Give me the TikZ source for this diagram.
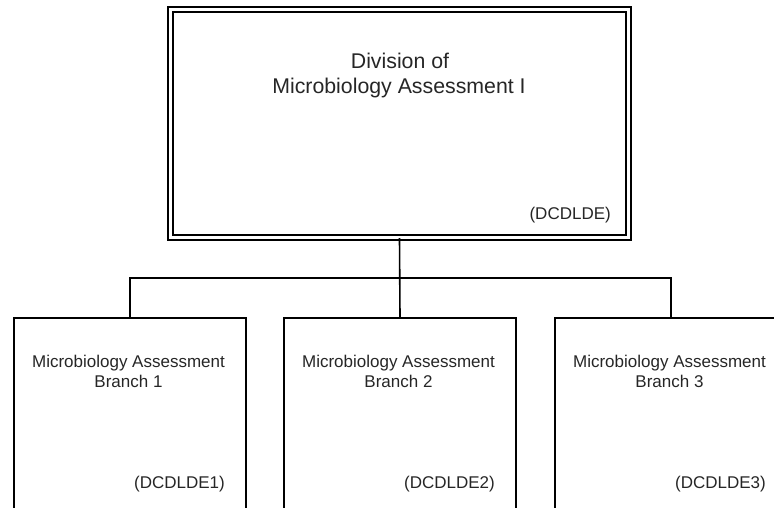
\documentclass[tikz,border=0pt]{standalone}
\usepackage{fontspec}
\setmainfont{Liberation Sans}
\begin{document}
\begin{tikzpicture}[x=1pt,y=-1pt,
  topbox/.style={draw=black,double=white,line width=1.4pt,double distance=3.4pt,
    minimum width=458pt,minimum height=228pt,inner sep=0pt},
  unitbox/.style={draw=black,line width=1.5pt,minimum width=232pt,minimum height=290pt,
    inner sep=0pt,anchor=north},
  bigtxt/.style={font=\fontsize{21.3}{25}\selectfont,text=black!85,inner sep=0pt,anchor=base},
  smalltxt/.style={font=\fontsize{17}{20}\selectfont,text=black!85,inner sep=0pt,anchor=base},
  codetxt/.style={font=\fontsize{17}{20}\selectfont,text=black!85,inner sep=0pt,anchor=base east},
  link/.style={draw=black,line width=1.6pt}]
\useasboundingbox (0,0) rectangle (774,507);
\clip (0,0) rectangle (774,507);
% top box
\node[topbox] (top) at (399.5,123.5) {};
\node[bigtxt] (t1) at (400,68) {Division of};
\node[bigtxt] (t2) at (399,93) {Microbiology Assessment I};
\node[codetxt] (tc) at (611,219) {(DCDLDE)};
% branch boxes
\node[unitbox] (b1) at (130,317) {};
\node[unitbox] (b2) at (400,317) {};
\node[unitbox] (b3) at (671,317) {};
\foreach \n/\x in {1/130,2/400,3/671}{
  \node[smalltxt] (m\n) at (\x-1.5,367) {Microbiology Assessment};
  \node[smalltxt] (r\n) at (\x-1.5,387) {Branch \n};
  \node[codetxt] (c\n) at (\x+95,488) {(DCDLDE\n)};
}
% connectors
\coordinate (j) at (400,278);
\draw[link] (top.south) -- (b2.north);
\draw[link] (b1.north) -- (b1.north |- j) -- (b3.north |- j) -- (b3.north);
\end{tikzpicture}
\end{document}
